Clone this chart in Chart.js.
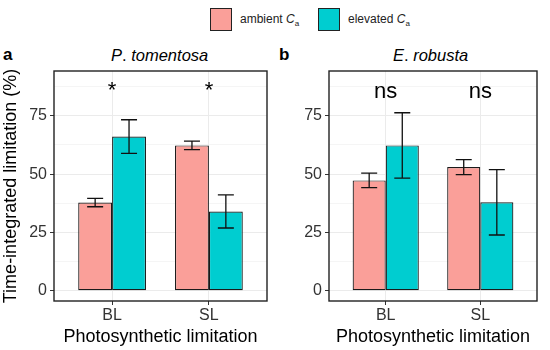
<!DOCTYPE html>
<html>
<head>
<meta charset="utf-8">
<script src="https://cdn.jsdelivr.net/npm/chart.js@4"></script>
<style>
  body { margin: 0; background: #fff; font-family: Arial, "Liberation Sans", sans-serif; }
  #wrap { position: relative; width: 550px; height: 350px; overflow: hidden; }
  canvas { position: absolute; }
  .lbl { position: absolute; font-size: 16.5px; color: #000; white-space: nowrap; }
  .leg { position: absolute; top: 8px; font-size: 12px; color: #222; }
  .leg .box { position: absolute; width: 20px; height: 21px; border: 1.3px solid #222; top: 0; }
  .leg span.t { position: absolute; top: 4px; white-space: nowrap; }
</style>
</head>
<body>
<div id="wrap">
  <div class="leg" style="left:210px"><div class="box" style="background:#FA9F99"></div><span class="t" style="left:30px">ambient <i>C</i><sub style="font-size:8px">a</sub></span></div>
  <div class="leg" style="left:318px"><div class="box" style="background:#00CDD0"></div><span class="t" style="left:30px">elevated <i>C</i><sub style="font-size:8px">a</sub></span></div>
  <div class="lbl" style="left:3px;top:45px;font-weight:bold;font-size:17px">a</div>
  <div class="lbl" style="left:111px;top:46px"><i>P</i>. <i>tomentosa</i></div>
  <div class="lbl" style="left:279px;top:45px;font-weight:bold;font-size:17px">b</div>
  <div class="lbl" style="left:393px;top:46px"><i>E</i>. <i>robusta</i></div>
  <canvas id="chartA" width="280" height="350" style="left:0;top:0"></canvas>
  <canvas id="chartB" width="275" height="350" style="left:275px;top:0"></canvas>
</div>
<script>
const categories = ['BL', 'SL'];
const seriesNames = ['ambient Ca', 'elevated Ca'];
const seriesColors = ['#FA9F99', '#00CDD0'];
const yTicks = [0, 25, 50, 75];

// panel a: P. tomentosa
const tomentosaAmbient = [37.8, 62.3];
const tomentosaElevated = [66.1, 34.0];
const tomentosaAmbientErr = [1.8, 1.8];
const tomentosaElevatedErr = [7.2, 7.1];
const tomentosaSig = ['*', '*'];

// panel b: E. robusta
const robustaAmbient = [47.3, 53.0];
const robustaElevated = [62.3, 37.9];
const robustaAmbientErr = [3.1, 3.2];
const robustaElevatedErr = [14.0, 14.0];
const robustaSig = ['ns', 'ns'];

const sigY = [88, 85.4];

// error bars + significance marks + panel border
const extras = {
  id: 'extras',
  afterDatasetsDraw(chart, args, opts) {
    const ctx = chart.ctx;
    const x = chart.scales.x, y = chart.scales.y;
    ctx.save();
    ctx.strokeStyle = '#111';
    ctx.lineWidth = 1.3;
    chart.data.datasets.forEach((ds, di) => {
      const meta = chart.getDatasetMeta(di);
      meta.data.forEach((bar, i) => {
        const v = ds.data[i].y, e = ds.err[i];
        const top = y.getPixelForValue(v + e), bot = y.getPixelForValue(v - e);
        const cx = bar.x, hw = 8;
        ctx.beginPath();
        ctx.moveTo(cx, top); ctx.lineTo(cx, bot);
        ctx.moveTo(cx - hw, top); ctx.lineTo(cx + hw, top);
        ctx.moveTo(cx - hw, bot); ctx.lineTo(cx + hw, bot);
        ctx.stroke();
      });
    });
    ctx.fillStyle = '#000';
    ctx.textAlign = 'center';
    ctx.textBaseline = 'middle';
    opts.sig.forEach((s, i) => {
      ctx.font = '22px Arial';
      const py = y.getPixelForValue(opts.sigY) + (s === '*' ? 5 : 0);
      ctx.fillText(s, x.getPixelForValue(i + 1), py);
    });
    const a = chart.chartArea;
    ctx.strokeStyle = '#222';
    ctx.lineWidth = 1.4;
    ctx.strokeRect(a.left, a.top, a.right - a.left, a.bottom - a.top);
    ctx.restore();
  }
};

function makePanel(id, amb, elev, ambErr, elevErr, sig, sy, showYTitle) {
  const toPts = arr => arr.map((v, i) => ({ x: i + 1, y: v }));
  new Chart(document.getElementById(id), {
    type: 'bar',
    data: {
      datasets: [
        { label: seriesNames[0], data: toPts(amb), err: ambErr, backgroundColor: seriesColors[0],
          borderColor: '#1a1a1a', borderWidth: 1.2, borderSkipped: false },
        { label: seriesNames[1], data: toPts(elev), err: elevErr, backgroundColor: seriesColors[1],
          borderColor: '#1a1a1a', borderWidth: 1.2, borderSkipped: false }
      ]
    },
    options: {
      responsive: false,
      animation: false,
      layout: { padding: { top: 71, right: 13, bottom: 0, left: 0 } },
      datasets: { bar: { categoryPercentage: 0.7, barPercentage: 1 } },
      plugins: {
        legend: { display: false },
        tooltip: { enabled: false },
        extras: { sig: sig, sigY: sy }
      },
      scales: {
        x: {
          type: 'linear', min: 0.4, max: 2.6, offset: false,
          afterBuildTicks: s => { s.ticks = categories.map((c, i) => ({ value: i + 1 })); },
          afterFit: s => { s.height = 49; },
          ticks: { callback: v => categories[v - 1], color: '#333', font: { size: 16 }, padding: 1 },
          grid: { offset: false, color: '#ebebeb', lineWidth: 1, tickColor: '#333', tickLength: 4 },
          border: { display: false },
          title: { display: true, text: 'Photosynthetic limitation', color: '#000', font: { size: 18 }, padding: { top: 0, bottom: 2 } }
        },
        y: {
          min: -4.4, max: 94.2,
          afterBuildTicks: s => { s.ticks = [0, 12.5, 25, 37.5, 50, 62.5, 75, 87.5].map(v => ({ value: v })); },
          afterFit: s => { s.width = 54; },
          ticks: { callback: v => yTicks.includes(v) ? String(v) : '', color: '#333', font: { size: 16 }, padding: 3 },
          grid: {
            color: '#ebebeb',
            lineWidth: c => (c.tick && yTicks.includes(c.tick.value)) ? 1 : 0.5,
            tickColor: c => (c.tick && yTicks.includes(c.tick.value)) ? '#333' : 'rgba(0,0,0,0)',
            tickLength: 4
          },
          border: { display: false },
          title: { display: showYTitle, text: 'Time-integrated limitation (%)', color: '#000', font: { size: 18 }, padding: 0 }
        }
      }
    },
    plugins: [extras]
  });
}

makePanel('chartA', tomentosaAmbient, tomentosaElevated, tomentosaAmbientErr, tomentosaElevatedErr, tomentosaSig, sigY[0], true);
makePanel('chartB', robustaAmbient, robustaElevated, robustaAmbientErr, robustaElevatedErr, robustaSig, sigY[1], false);
</script>
</body>
</html>
